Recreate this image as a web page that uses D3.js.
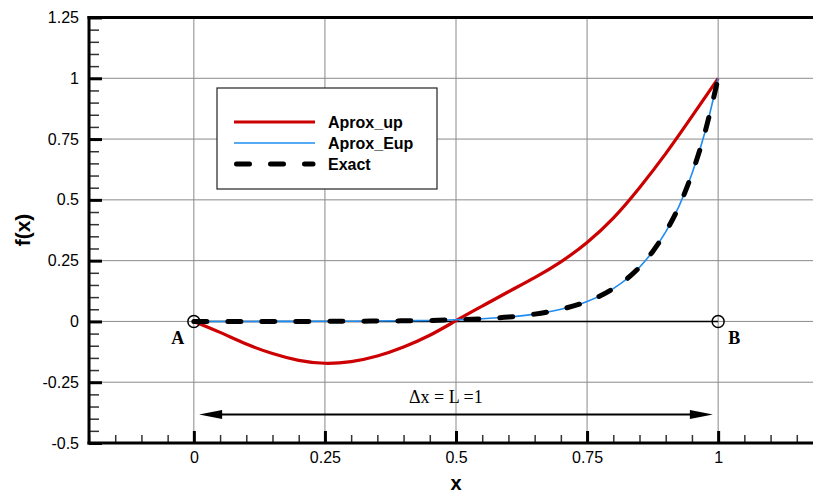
<!DOCTYPE html>
<html>
<head>
<meta charset="utf-8">
<script src="https://cdn.jsdelivr.net/npm/d3@7"></script>
<style>
  body { margin: 0; background: #fff; }
  svg { display: block; font-family: "Liberation Sans", Arial, sans-serif; }
</style>
</head>
<body>
<svg id="chart" width="813" height="495"></svg>
<script>
// values
const aproxUpX = [0, 0.05, 0.1, 0.15, 0.2, 0.25, 0.3, 0.35, 0.4, 0.45, 0.5, 0.55, 0.6, 0.65, 0.7, 0.75, 0.8, 0.85, 0.9, 0.95, 1];
const aproxUpY = [0, -0.045, -0.093, -0.132, -0.16, -0.172, -0.165, -0.142, -0.105, -0.057, 0.003, 0.063, 0.122, 0.18, 0.245, 0.325, 0.425, 0.55, 0.69, 0.843, 1];

const aproxEupX = [0, 0.1, 0.2, 0.3, 0.4, 0.45, 0.5, 0.55, 0.6, 0.65, 0.7, 0.75, 0.8, 0.85, 0.875, 0.9, 0.925, 0.95, 0.975, 1];
const aproxEupY = [0, 0, 0.0001, 0.0009, 0.0025, 0.004, 0.007, 0.011, 0.018, 0.03, 0.05, 0.082, 0.135, 0.223, 0.287, 0.368, 0.472, 0.607, 0.779, 1];

const exactX = [0, 0.1, 0.2, 0.3, 0.4, 0.45, 0.5, 0.55, 0.6, 0.65, 0.7, 0.75, 0.8, 0.85, 0.875, 0.9, 0.925, 0.95, 0.975, 1];
const exactY = [0, 0, 0.0001, 0.0009, 0.0025, 0.004, 0.0067, 0.011, 0.018, 0.03, 0.05, 0.082, 0.135, 0.223, 0.287, 0.368, 0.472, 0.607, 0.779, 1];

const xMajor = [0, 0.25, 0.5, 0.75, 1];
const yMajor = [-0.5, -0.25, 0, 0.25, 0.5, 0.75, 1, 1.25];
const xMinor = d3.range(-0.2, 1.2001, 0.05);
const yMinor = d3.range(-0.5, 1.2501, 0.05);

const legendNames = ["Aprox_up", "Aprox_Eup", "Exact"];
const points = [{x: 0, y: 0, label: "A"}, {x: 1, y: 0, label: "B"}];
const spanLabel = "\u0394x = L =1";

const svg = d3.select("#chart");
const x = d3.scaleLinear().domain([-0.2, 1.2]).range([89, 823]);
const y = d3.scaleLinear().domain([-0.5, 1.25]).range([443, 17.5]);

// grid
svg.append("g").selectAll("line")
  .data(xMajor).enter().append("line")
  .attr("x1", d => x(d)).attr("x2", d => x(d))
  .attr("y1", y(-0.5)).attr("y2", y(1.25))
  .attr("stroke", "#8a8a8a").attr("stroke-width", 1);
svg.append("g").selectAll("line")
  .data(yMajor.filter(d => d > -0.5 && d < 1.25)).enter().append("line")
  .attr("x1", x(-0.2)).attr("x2", x(1.2))
  .attr("y1", d => y(d)).attr("y2", d => y(d))
  .attr("stroke", "#8a8a8a").attr("stroke-width", 1);

// line A-B
svg.append("line")
  .attr("x1", x(0)).attr("x2", x(1))
  .attr("y1", y(0)).attr("y2", y(0))
  .attr("stroke", "#000").attr("stroke-width", 1.6);

// legend
const lg = svg.append("g");
lg.append("rect")
  .attr("x", 217).attr("y", 88).attr("width", 220).attr("height", 101)
  .attr("fill", "#fff").attr("stroke", "#222").attr("stroke-width", 1.2);
const legStyles = [
  {stroke: "#cc0000", width: 3.2, dash: null},
  {stroke: "#1e8cf0", width: 1.6, dash: null},
  {stroke: "#000", width: 5, dash: "13,21"}
];
legendNames.forEach((name, i) => {
  const yy = 122 + i * 21;
  const s = legStyles[i];
  lg.append("line")
    .attr("x1", s.dash ? 236.5 : 234).attr("x2", s.dash ? 313 : 315)
    .attr("y1", yy).attr("y2", yy)
    .attr("stroke", s.stroke).attr("stroke-width", s.width)
    .attr("stroke-dasharray", s.dash)
    .attr("stroke-linecap", s.dash ? "round" : "butt");
  lg.append("text")
    .attr("x", 328).attr("y", yy + 6)
    .style("font-size", "16px").style("font-weight", "bold")
    .text(name);
});

// curves
const line = d3.line().x(d => x(d[0])).y(d => y(d[1])).curve(d3.curveMonotoneX);
const smooth = d3.line().x(d => x(d[0])).y(d => y(d[1])).curve(d3.curveNatural);

svg.append("path")
  .attr("d", smooth(d3.zip(aproxUpX, aproxUpY)))
  .attr("fill", "none").attr("stroke", "#cc0000").attr("stroke-width", 3.2);

svg.append("path")
  .attr("d", line(d3.zip(aproxEupX, aproxEupY)))
  .attr("fill", "none").attr("stroke", "#1e8cf0").attr("stroke-width", 1.6);

svg.append("path")
  .attr("d", line(d3.zip(exactX, exactY)))
  .attr("fill", "none").attr("stroke", "#000").attr("stroke-width", 5)
  .attr("stroke-dasharray", "13,21").attr("stroke-linecap", "round");

// A and B markers
svg.selectAll(".pt")
  .data(points).enter().append("circle")
  .attr("class", "pt")
  .attr("cx", d => x(d.x)).attr("cy", d => y(d.y)).attr("r", 6)
  .attr("fill", "none").attr("stroke", "#000").attr("stroke-width", 1.5);
svg.selectAll(".ptlabel")
  .data(points).enter().append("text")
  .attr("class", "ptlabel")
  .attr("x", d => x(d.x) + (d.label === "A" ? -16 : 16))
  .attr("y", y(0) + 23)
  .attr("text-anchor", "middle")
  .style("font-family", "'Liberation Serif', 'Times New Roman', serif")
  .style("font-size", "18px").style("font-weight", "bold")
  .text(d => d.label);

// double arrow
const ay = y(-0.383);
const ax1 = x(0.01), ax2 = x(0.99);
svg.append("line")
  .attr("x1", ax1 + 10).attr("x2", ax2 - 10)
  .attr("y1", ay).attr("y2", ay)
  .attr("stroke", "#000").attr("stroke-width", 2);
svg.append("path")
  .attr("d", `M${ax1},${ay}L${ax1 + 23},${ay - 4.5}L${ax1 + 23},${ay + 4.5}Z`)
  .attr("fill", "#000");
svg.append("path")
  .attr("d", `M${ax2},${ay}L${ax2 - 23},${ay - 4.5}L${ax2 - 23},${ay + 4.5}Z`)
  .attr("fill", "#000");
svg.append("text")
  .attr("x", 409).attr("y", 403)
  .style("font-family", "'Liberation Serif', 'Times New Roman', serif")
  .style("font-size", "18px")
  .text(spanLabel);

// axes
const fmt = d => String(+d.toFixed(2));

const yAx = svg.append("g").attr("transform", `translate(${x(-0.2)},0)`);
yAx.call(d3.axisLeft(y).tickValues(yMinor).tickSize(-10).tickFormat(""));
yAx.call(g => g.selectAll(".tick line").attr("stroke", "#333").attr("stroke-width", 1.5));
const yAxMaj = svg.append("g").attr("transform", `translate(${x(-0.2)},0)`);
yAxMaj.call(d3.axisLeft(y).tickValues(yMajor).tickSize(-13).tickPadding(10).tickFormat(fmt));
yAxMaj.selectAll(".tick line").attr("stroke", "#000").attr("stroke-width", 3);
yAxMaj.selectAll("text").style("font-size", "16px").style("font-family", "'Liberation Sans', Arial, sans-serif").attr("fill", "#000");

const xAx = svg.append("g").attr("transform", `translate(0,${y(-0.5)})`);
xAx.call(d3.axisBottom(x).tickValues(xMinor).tickSize(-8).tickFormat(""));
xAx.selectAll(".tick line").attr("stroke", "#333").attr("stroke-width", 1.5);
const xAxMaj = svg.append("g").attr("transform", `translate(0,${y(-0.5)})`);
xAxMaj.call(d3.axisBottom(x).tickValues(xMajor).tickSize(-12).tickPadding(9).tickFormat(fmt));
xAxMaj.selectAll(".tick line").attr("stroke", "#000").attr("stroke-width", 3);
xAxMaj.selectAll("text").style("font-size", "16px").style("font-family", "'Liberation Sans', Arial, sans-serif").attr("fill", "#000");

svg.selectAll(".domain").remove();

// thick frame lines
svg.append("line")
  .attr("x1", x(-0.2)).attr("x2", x(-0.2)).attr("y1", y(1.25) - 1.5).attr("y2", y(-0.5) + 1.5)
  .attr("stroke", "#000").attr("stroke-width", 3);
svg.append("line")
  .attr("x1", x(-0.2) - 1.5).attr("x2", x(1.2)).attr("y1", y(-0.5)).attr("y2", y(-0.5))
  .attr("stroke", "#000").attr("stroke-width", 3);
svg.append("line")
  .attr("x1", x(-0.2) - 1.5).attr("x2", x(1.2)).attr("y1", y(1.25)).attr("y2", y(1.25))
  .attr("stroke", "#000").attr("stroke-width", 3);

// axis titles
svg.append("text")
  .attr("transform", "translate(30,230) rotate(-90)")
  .attr("text-anchor", "middle")
  .style("font-size", "21px").style("font-weight", "bold")
  .text("f(x)");
svg.append("text")
  .attr("x", x(0.5)).attr("y", 490)
  .attr("text-anchor", "middle")
  .style("font-size", "20px").style("font-weight", "bold")
  .text("x");
</script>
</body>
</html>
